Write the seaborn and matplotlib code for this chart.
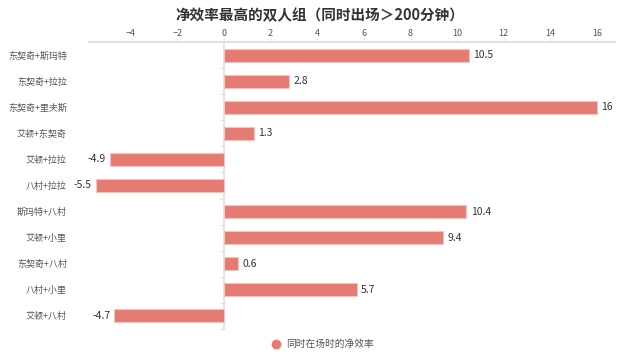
import pandas as pd
import matplotlib.pyplot as plt
import seaborn as sns
from matplotlib.lines import Line2D

# data
pairs = ['东契奇+斯玛特', '东契奇+拉拉', '东契奇+里夫斯', '艾顿+东契奇', '艾顿+拉拉',
         '八村+拉拉', '斯玛特+八村', '艾顿+小里', '东契奇+八村', '八村+小里', '艾顿+八村']
net_rating = [10.5, 2.8, 16, 1.3, -4.9, -5.5, 10.4, 9.4, 0.6, 5.7, -4.7]
x_ticks = [-4, -2, 0, 2, 4, 6, 8, 10, 12, 14, 16]
series_name = '同时在场时的净效率'

df = pd.DataFrame({'pair': pairs, 'value': net_rating})

sns.set_style('white')
plt.rcParams['font.family'] = ['Noto Sans CJK SC', 'DejaVu Sans']

bar_color = '#e57b72'
grey = '#e0e0e0'
text_grey = '#555555'

fig = plt.figure(figsize=(6.4, 3.58), dpi=100)
ax = fig.add_axes([89 / 640, 1 - 329 / 358, 526 / 640, 287 / 358])

sns.barplot(data=df, x='value', y='pair', orient='h', color=bar_color,
            edgecolor='#f4c4bf', linewidth=0.8, width=0.5, saturation=1, ax=ax)

lo, hi = -5.79, 16.77
ax.set_xlim(lo, hi)
ax.set_ylim(len(pairs) - 0.5, -0.5)
ax.set_xticks(x_ticks)
ax.xaxis.tick_top()
ax.set_xlabel('')
ax.set_ylabel('')

for side in ['left', 'right', 'bottom']:
    ax.spines[side].set_visible(False)
ax.spines['top'].set_color(grey)
ax.spines['top'].set_linewidth(1.5)

ax.tick_params(axis='x', which='major', length=3, color=grey, labelsize=6.5,
               labelcolor=text_grey, pad=0, direction='out')
ax.tick_params(axis='y', length=0, labelsize=6.5, labelcolor=text_grey, pad=16)

# zero axis line with small ticks between categories
zero = ax.secondary_yaxis((0 - lo) / (hi - lo))
zero.set_yticks([i + 0.5 for i in range(-1, len(pairs))])
zero.set_yticklabels([])
zero.tick_params(length=3, color=grey, direction='out')
zero.spines['left'].set_color(grey)
zero.spines['left'].set_linewidth(1.2)

ax.bar_label(ax.containers[0], labels=[f'{v:g}' for v in net_rating],
             padding=3, fontsize=7.5, color='#333333')

fig.suptitle('净效率最高的双人组（同时出场＞200分钟）', fontsize=10.5,
             fontweight='bold', color='#333333', y=1 - 15 / 358, va='center')

handle = Line2D([], [], marker='o', linestyle='', color=bar_color, markersize=6)
fig.legend([handle], [series_name], loc='lower center', bbox_to_anchor=(0.5, 0.0),
           frameon=False, fontsize=7, labelcolor=text_grey, handletextpad=0.1)

fig.savefig('out.png', dpi=100)
